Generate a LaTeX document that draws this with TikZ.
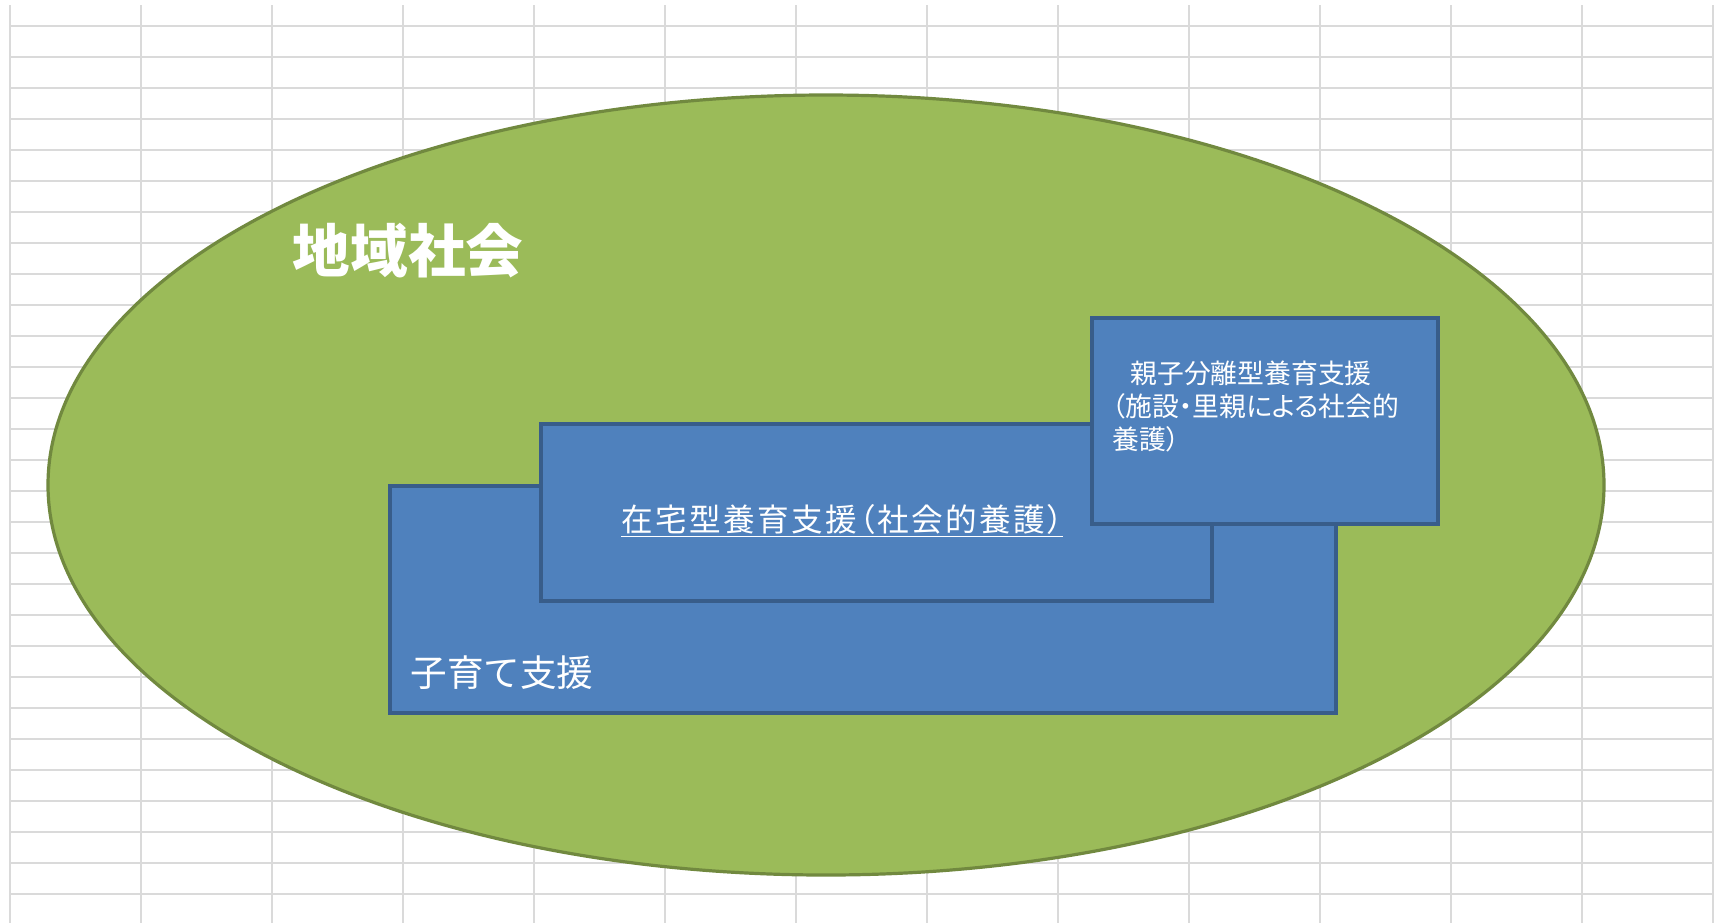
\documentclass[tikz,border=0pt]{standalone}
\usepackage{fontspec}
\setmainfont{Noto Sans CJK JP}
\newfontfamily\jpp{Noto Sans CJK JP}[RawFeature=+palt]
\newfontfamily\jpw{Noto Sans CJK JP}[RawFeature=+palt,LetterSpace=7.5]
\usetikzlibrary{shapes.geometric}
\definecolor{gridgray}{HTML}{DADADA}
\definecolor{olivefill}{HTML}{9BBB59}
\definecolor{olivedraw}{HTML}{71893F}
\definecolor{boxfill}{HTML}{4F81BD}
\definecolor{boxdraw}{HTML}{385D8A}
\begin{document}
\begin{tikzpicture}[x=0.5pt,y=-0.5pt,
  gridline/.style={draw=gridgray,line width=1pt},
  blob/.style={ellipse, fill=olivefill, draw=olivedraw, line width=1.6pt,
    minimum width=778pt, minimum height=390pt, inner sep=0pt},
  panel/.style={fill=boxfill, draw=boxdraw, line width=2.2pt},
  lbl/.style={text=white, inner sep=0pt}]
\fill[white] (0,0) rectangle (1717,923);
\useasboundingbox (0,0) rectangle (1717,923);
\foreach \k in {0,...,28} \draw[gridline] (10,{26+31*\k}) -- (1713,{26+31*\k});
\foreach \k in {0,...,13} \draw[gridline] ({10+131*\k},5) -- ({10+131*\k},923);
\node[blob] (society) at (826,485) {};
\path[panel] (390,486) rectangle (1336,713);
\path[panel] (541,424) rectangle (1212,601);
\path[panel] (1092,318) rectangle (1438,524);
\node[lbl, anchor=base, font=\bfseries\fontsize{28.8pt}{34pt}\selectfont] (chiiki) at (408,272) {地域社会};
\node[lbl, anchor=base west, font=\fontsize{18.3pt}{22pt}\selectfont] (kosodate) at (410,686) {子育て支援};
\node[lbl, anchor=base west, font=\jpw\fontsize{15.8pt}{19pt}\selectfont] (zaitaku) at (621,531) {\underline{在宅型養育支援（社会的養護）}};
\node[lbl, anchor=base west, font=\jpp\fontsize{13.4pt}{16pt}\selectfont] (oyakoA) at (1130,383) {親子分離型養育支援};
\node[lbl, anchor=base west, font=\jpp\fontsize{13.4pt}{16pt}\selectfont] (oyakoB) at (1112,416) {（施設・里親による社会的};
\node[lbl, anchor=base west, font=\jpp\fontsize{13.4pt}{16pt}\selectfont] (oyakoC) at (1112,449) {養護）};
\end{tikzpicture}
\end{document}
